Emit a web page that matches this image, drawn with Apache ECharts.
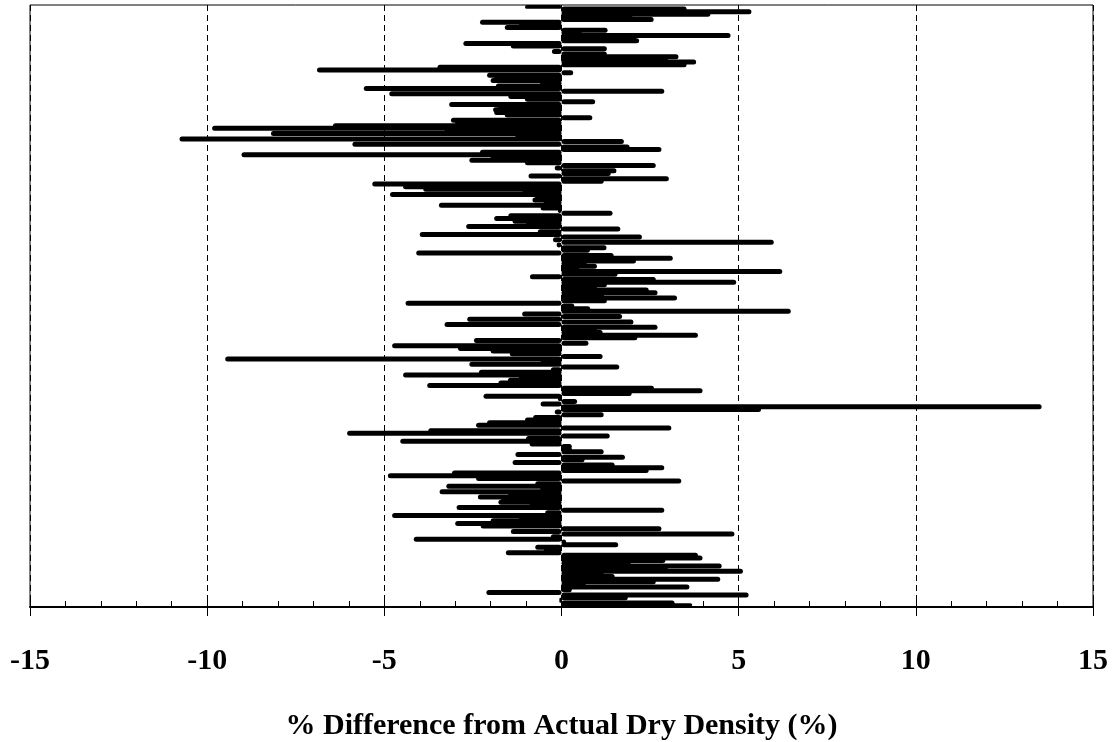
<!DOCTYPE html>
<html>
<head>
<meta charset="utf-8">
<script src="https://cdn.jsdelivr.net/npm/echarts@6/dist/echarts.min.js"></script>
<style>html,body{margin:0;padding:0;background:#fff}#c{width:1113px;height:742px}</style>
</head>
<body>
<div id="c"></div>
<script>
// % difference per sample, top to bottom
const diffA = [-1.03,3.53,5.36,4.2,2.0,2.6,-2.3,-1.2,-1.6,1.3,0.57,4.77,2.1,2.19,-2.77,-1.43,1.28,-0.27,1.28,3.3,3.0,3.8,3.53,-3.5,-6.9,0.33,-2.1,-1.9,-2.0,-0.6,-1.85,-5.58,2.9,-4.86,-1.5,-1.03,0.95,-3.17,-1.8,-1.93,-1.9,-1.6,0.87,-3.12,-3.0];
const diffB = [-6.45,-9.86,-3.3,-8.2,-1.3,-10.78,1.76,-5.9,1.92,2.82,-2.3,-9.03,-2.0,-2.6,-1.03,2.66,-0.19,1.55,1.39,-0.93,3.03,1.19,-5.34,-4.47,-3.9,-1.1,-4.84,-0.74,-0.82,-0.5,-3.46,-0.59,-0.1,1.44,-1.5,-1.9,-1.38,-1.0,-2.69,1.66,-0.67,-4.0,2.27,-0.24,5.99];
const diffC = [-0.14,1.27,0.8,-4.1,1.47,3.14,2.1,0.71,1.0,0.5,6.23,1.58,-0.89,2.66,4.93,1.28,1.0,2.46,2.71,1.2,3.26,1.28,-4.4,0.36,0.81,6.47,-1.11,1.71,-2.66,2.03,-3.3,2.71,1.0,1.16,3.85,2.14,-2.47,0.76,-4.78,-2.92,-2.0,-1.46,1.16,-9.49,-0.59];
const diffD = [-2.6,1.63,-0.3,-2.33,-4.47,-1.2,-1.51,-1.78,-3.79,2.61,3.98,1.98,-2.2,-0.1,0.44,-0.59,13.55,5.63,-0.19,1.19,-0.8,-1.03,-2.1,-2.41,3.1,-3.76,-6.05,1.36,-1.0,-4.55,-0.9,0.29,0.29,1.19,-1.3,1.79,0.65,-1.38,1.5,2.9,2.46,-3.09,-4.9,-2.41,3.38];
const diffE = [-0.74,-3.25,-0.6,-3.44,-1.5,-2.36,-1.7,-1.78,-0.9,-2.96,2.9,-0.46,-4.78,-1.2,-2.0,-3.0,-2.28,2.82,-1.43,4.88,-0.3,-4.17,0.13,1.6,-0.74,-0.5,-1.57,3.85,3.98,2.93,1.95,4.52,3.0,5.12,1.19,1.5,4.48,2.66,0.68,3.61,0.29,-2.12,5.28,1.87,-0.06,3.19,3.69];
const values = diffA.concat(diffB, diffC, diffD, diffE);
const categories = values.map((_, i) => 'S' + (i + 1));
const tickLabels = ['-15', '-10', '-5', '0', '5', '10', '15'];
const axisTitle = '% Difference from Actual Dry Density (%)';

const FONT = '"Liberation Serif", "Times New Roman", serif';
const chart = echarts.init(document.getElementById('c'), null, {renderer: 'canvas'});
chart.setOption({
  animation: false,
  backgroundColor: '#fff',
  grid: {left: 30, right: 20, top: 5, bottom: 135, show: true, borderColor: '#000', borderWidth: 1,
         containLabel: false, outerBoundsMode: 'none'},
  xAxis: [{
    type: 'value', min: -15, max: 15, interval: 5, position: 'bottom',
    axisLine: {show: true, onZero: false, lineStyle: {color: '#000', width: 2}},
    axisTick: {show: true, inside: false, length: 9, lineStyle: {color: '#000', width: 1}},
    minorTick: {show: false},
    splitLine: {show: true, lineStyle: {color: '#000', width: 1, type: [6, 4]}},
    axisLabel: {
      margin: 39, color: '#000', fontFamily: FONT, fontWeight: 'bold', fontSize: 30,
      formatter: v => tickLabels[Math.round((v + 15) / 5)]
    },
    name: axisTitle, nameLocation: 'middle', nameGap: 104,
    nameTextStyle: {color: '#000', fontFamily: FONT, fontWeight: 'bold', fontSize: 30}
  }, {
    type: 'value', min: -15, max: 15, interval: 5, position: 'bottom',
    axisLine: {show: false, onZero: false},
    axisTick: {show: true, inside: true, length: 6, lineStyle: {color: '#000', width: 1}},
    minorTick: {show: true, splitNumber: 5, length: 6, lineStyle: {color: '#000', width: 1}},
    splitLine: {show: false},
    axisLabel: {show: false}
  }],
  yAxis: {
    type: 'category', data: categories, inverse: true,
    axisLine: {show: false}, axisTick: {show: false}, axisLabel: {show: false}, splitLine: {show: false}
  },
  series: [{
    type: 'bar', data: values, xAxisIndex: 0, barWidth: 5,
    itemStyle: {color: '#000', borderRadius: 2.5}
  }]
});
</script>
</body>
</html>
